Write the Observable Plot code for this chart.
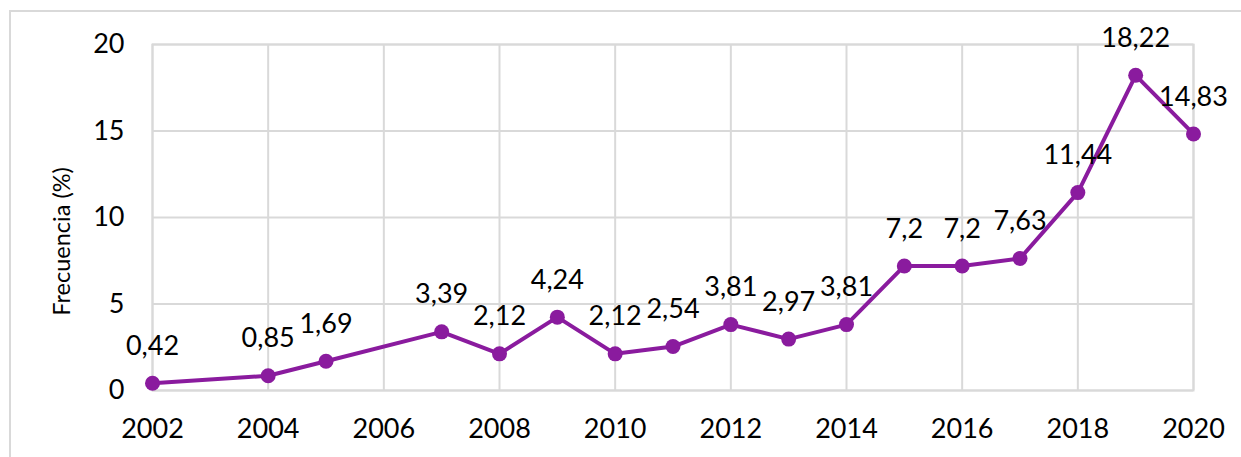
<!DOCTYPE html>
<html>
<head>
<meta charset="utf-8">
<script src="https://cdn.jsdelivr.net/npm/d3@7"></script>
<script src="https://cdn.jsdelivr.net/npm/@observablehq/plot@0.6"></script>
<style>
  html, body { margin: 0; padding: 0; background: #fff; }
  #wrap { position: relative; width: 1241px; height: 457px; overflow: hidden; background: #fff; }
  #frame { position: absolute; left: 9px; top: 10px; width: 1300px; height: 500px; border: 2px solid #d9d9d9; box-sizing: border-box; }
  #chart { position: absolute; left: 0; top: 0; }
</style>
</head>
<body>
<div id="wrap">
  <div id="frame"></div>
  <div id="chart"></div>
</div>
<script>
const years = [2002, 2004, 2005, 2007, 2008, 2009, 2010, 2011, 2012, 2013, 2014, 2015, 2016, 2017, 2018, 2019, 2020];
const values = [0.42, 0.85, 1.69, 3.39, 2.12, 4.24, 2.12, 2.54, 3.81, 2.97, 3.81, 7.2, 7.2, 7.63, 11.44, 18.22, 14.83];
const labels = ["0,42", "0,85", "1,69", "3,39", "2,12", "4,24", "2,12", "2,54", "3,81", "2,97", "3,81", "7,2", "7,2", "7,63", "11,44", "18,22", "14,83"];
const xTicks = [2002, 2004, 2006, 2008, 2010, 2012, 2014, 2016, 2018, 2020];
const yTicks = [0, 5, 10, 15, 20];
const yLabel = "Frecuencia (%)";

const data = years.map((y, i) => ({year: y, value: values[i], label: labels[i]}));
const color = "#8a1b9e";
const font = "Lato, 'Open Sans', sans-serif";

const chart = Plot.plot({
  width: 1241,
  height: 457,
  marginLeft: 152,
  marginRight: 48,
  marginTop: 44,
  marginBottom: 67,
  style: {fontFamily: font, fontSize: "27px", color: "#000", background: "transparent", overflow: "visible"},
  x: {domain: [2002, 2020], ticks: xTicks, tickFormat: d => String(d), tickSize: 0, tickPadding: 28, label: null},
  y: {domain: [0, 20], ticks: yTicks, tickSize: 0, tickPadding: 28, label: null},
  marks: [
    Plot.gridX(xTicks, {stroke: "#d9d9d9", strokeOpacity: 1, strokeWidth: 2}),
    Plot.gridY(yTicks, {stroke: "#d9d9d9", strokeOpacity: 1, strokeWidth: 2}),
    Plot.frame({stroke: "#d9d9d9", strokeWidth: 2}),
    Plot.axisX(xTicks, {tickSize: 0, tickPadding: 28, tickFormat: d => String(d), fontSize: 27, label: null}),
    Plot.axisY(yTicks, {tickSize: 0, tickPadding: 28, fontSize: 27, label: null}),
    Plot.text([yLabel], {frameAnchor: "left", textAnchor: "middle", text: d => d, rotate: -90, dx: -90, dy: 24, fontSize: 23.5, fill: "#000"}),
    Plot.line(data, {x: "year", y: "value", stroke: color, strokeWidth: 4}),
    Plot.dot(data, {x: "year", y: "value", r: 7.5, fill: color, stroke: "none"}),
    Plot.text(data, {x: "year", y: "value", text: "label", dy: -37, fontSize: 27, fill: "#000"})
  ]
});
document.getElementById("chart").appendChild(chart);
</script>
</body>
</html>
